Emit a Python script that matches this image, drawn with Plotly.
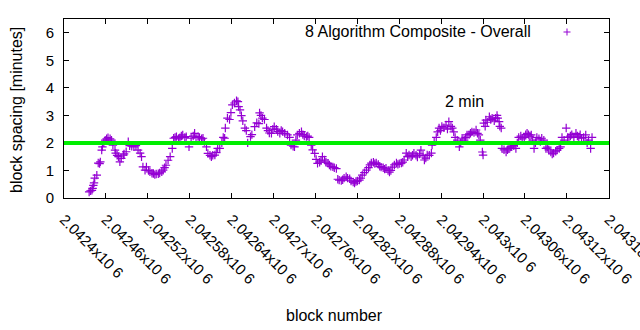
import plotly.graph_objects as go

# ---- data ----
blocks = [
    2042436, 2042438, 2042440, 2042441, 2042442, 2042443, 2042444, 2042447, 2042449, 2042451,
    2042452, 2042454, 2042455, 2042457, 2042459, 2042461, 2042463, 2042466, 2042468, 2042470,
    2042473, 2042474, 2042476, 2042478, 2042480, 2042482, 2042485, 2042486, 2042489, 2042492,
    2042494, 2042497, 2042500, 2042503, 2042506, 2042509, 2042511, 2042513, 2042516, 2042518,
    2042521, 2042523, 2042526, 2042528, 2042530, 2042532, 2042535, 2042537, 2042540, 2042542,
    2042544, 2042546, 2042549, 2042552, 2042555, 2042557, 2042559, 2042561, 2042564, 2042566,
    2042568, 2042570, 2042573, 2042575, 2042579, 2042582, 2042585, 2042587, 2042589, 2042592,
    2042594, 2042597, 2042599, 2042601, 2042604, 2042606, 2042609, 2042611, 2042613, 2042616,
    2042618, 2042620, 2042623, 2042626, 2042628, 2042630, 2042631, 2042634, 2042637, 2042639,
    2042641, 2042644, 2042647, 2042649, 2042650, 2042652, 2042654, 2042656, 2042659, 2042661,
    2042663, 2042667, 2042669, 2042673, 2042676, 2042679, 2042680, 2042682, 2042684, 2042687,
    2042690, 2042692, 2042694, 2042697, 2042699, 2042701, 2042704, 2042706, 2042709, 2042711,
    2042713, 2042716, 2042720, 2042723, 2042725, 2042728, 2042730, 2042732, 2042734, 2042737,
    2042740, 2042742, 2042744, 2042747, 2042749, 2042751, 2042754, 2042756, 2042759, 2042761,
    2042763, 2042766, 2042768, 2042770, 2042773, 2042775, 2042778, 2042780, 2042782, 2042785,
    2042787, 2042790, 2042792, 2042794, 2042797, 2042799, 2042801, 2042804, 2042806, 2042809,
    2042811, 2042814, 2042816, 2042818, 2042820, 2042823, 2042825, 2042827, 2042830, 2042833,
    2042836, 2042838, 2042840, 2042843, 2042845, 2042847, 2042850, 2042852, 2042854, 2042857,
    2042859, 2042861, 2042864, 2042866, 2042868, 2042870, 2042873, 2042876, 2042878, 2042880,
    2042883, 2042885, 2042887, 2042890, 2042892, 2042894, 2042897, 2042899, 2042901, 2042904,
    2042906, 2042909, 2042911, 2042914, 2042916, 2042918, 2042920, 2042923, 2042926, 2042927,
    2042930, 2042933, 2042935, 2042937, 2042939, 2042941, 2042944, 2042947, 2042949, 2042951,
    2042954, 2042956, 2042958, 2042960, 2042963, 2042966, 2042968, 2042970, 2042973, 2042975,
    2042977, 2042980, 2042982, 2042984, 2042987, 2042990, 2042992, 2042994, 2042996, 2042999,
    2043000, 2043001, 2043003, 2043004, 2043006, 2043009, 2043011, 2043013, 2043016, 2043018,
    2043020, 2043021, 2043023, 2043024, 2043026, 2043027, 2043030, 2043033, 2043035, 2043037,
    2043039, 2043041, 2043044, 2043047, 2043049, 2043051, 2043054, 2043056, 2043059, 2043061,
    2043063, 2043065, 2043067, 2043069, 2043071, 2043073, 2043075, 2043077, 2043080, 2043082,
    2043084, 2043087, 2043090, 2043092, 2043094, 2043097, 2043099, 2043101, 2043104, 2043106,
    2043109, 2043111, 2043113, 2043116, 2043119, 2043121, 2043123, 2043125, 2043127, 2043130,
    2043133, 2043135, 2043137, 2043139, 2043141, 2043144, 2043147, 2043149, 2043151, 2043154,
    2043156,
]

spacing_minutes = [
    0.22, 0.26, 0.28, 0.35, 0.46, 0.55, 0.72, 0.83, 1.27, 1.25,
    1.31, 1.74, 1.86, 2.00, 2.10, 2.15, 2.19, 2.15, 2.10, 1.92,
    1.74, 1.63, 1.55, 1.50, 1.31, 1.44, 1.56, 1.60, 1.68, 2.04,
    1.90, 1.88, 1.86, 1.90, 1.74, 1.63, 1.50, 1.13, 1.01, 1.13,
    1.00, 0.95, 0.90, 0.89, 0.85, 0.87, 0.88, 0.91, 0.95, 1.01,
    1.10, 1.19, 1.37, 1.50, 1.80, 2.17, 2.20, 2.23, 2.15, 2.19,
    2.25, 2.29, 2.20, 2.23, 1.86, 2.17, 2.25, 2.35, 2.20, 2.23,
    2.20, 2.15, 2.17, 2.05, 1.86, 1.62, 1.55, 1.50, 1.55, 1.56,
    1.65, 1.80, 1.80, 2.00, 2.20, 2.17, 2.54, 2.90, 2.85, 3.10,
    3.38, 3.45, 3.53, 3.50, 3.32, 3.20, 2.99, 2.80, 2.54, 2.45,
    2.00, 2.23, 2.30, 2.59, 2.73, 2.70, 3.09, 3.00, 2.90, 2.85,
    2.54, 2.45, 2.36, 2.35, 2.50, 2.59, 2.50, 2.41, 2.35, 2.45,
    2.41, 2.35, 2.29, 2.20, 1.92, 1.88, 1.86, 2.10, 2.29, 2.35,
    2.41, 2.30, 2.25, 2.23, 2.25, 2.20, 1.92, 1.75, 1.62, 1.40,
    1.26, 1.30, 1.35, 1.50, 1.38, 1.30, 1.26, 1.20, 1.15, 1.13,
    1.10, 1.07, 0.68, 0.65, 0.63, 0.66, 0.72, 0.77, 0.72, 0.70,
    0.62, 0.58, 0.54, 0.60, 0.62, 0.65, 0.72, 0.83, 0.92, 1.01,
    1.10, 1.20, 1.27, 1.30, 1.25, 1.27, 1.22, 1.15, 1.12, 1.10,
    1.05, 1.08, 1.00, 0.94, 1.00, 1.12, 1.20, 1.27, 1.22, 1.25,
    1.27, 1.30, 1.38, 1.63, 1.50, 1.56, 1.50, 1.55, 1.63, 1.55,
    1.49, 1.60, 1.74, 1.55, 1.38, 1.45, 1.56, 1.55, 1.63, 1.92,
    2.05, 2.20, 2.40, 2.54, 2.45, 2.60, 2.55, 2.65, 2.50, 2.77,
    2.60, 2.54, 2.40, 2.20, 2.10, 1.86, 2.00, 2.17, 2.10, 2.20,
    2.29, 2.30, 2.35, 2.40, 2.38, 2.47, 2.35, 2.29, 2.10, 1.67,
    1.56, 2.72, 2.60, 2.83, 2.75, 2.95, 2.85, 2.90, 2.80, 2.90,
    3.00, 2.90, 2.77, 2.60, 2.54, 1.80, 1.75, 1.67, 1.75, 1.80,
    1.85, 1.86, 1.90, 1.80, 2.00, 2.20, 2.25, 2.15, 2.20, 2.30,
    2.35, 2.30, 2.25, 2.29, 2.10, 1.80, 2.00, 2.20, 2.15, 2.05,
    2.17, 2.10, 1.80, 1.85, 1.75, 1.67, 1.60, 1.63, 1.70, 1.74,
    1.80, 1.86, 2.20, 2.10, 2.54, 2.20, 2.20, 2.25, 2.30, 2.20,
    2.35, 2.25, 2.20, 2.30, 2.17, 2.20, 2.29, 2.00, 2.10, 1.80,
    2.20,
]

assert len(blocks) == len(spacing_minutes)

target_minutes = 2
target_label = "2 min"
target_label_pos = (2042973, 3.49)

series_name = "8 Algorithm Composite - Overall"

x_tick_vals = [2042400, 2042460, 2042520, 2042580, 2042640, 2042700, 2042760,
               2042820, 2042880, 2042940, 2043000, 2043060, 2043120, 2043180]
x_tick_text = ["2.0424x10 6", "2.04246x10 6", "2.04252x10 6", "2.04258x10 6",
               "2.04264x10 6", "2.0427x10 6", "2.04276x10 6", "2.04282x10 6",
               "2.04288x10 6", "2.04294x10 6", "2.043x10 6", "2.04306x10 6",
               "2.04312x10 6", "2.04318x10 6"]
y_tick_vals = [0, 1, 2, 3, 4, 5, 6]

x_range = [2042400, 2043180.3]
y_range = [0, 6.5]

# ---- styling ----
PURPLE = "#9400d3"
GREEN = "#00ee00"
FONT = "Liberation Sans"
W, H = 640, 330
ML, MR, MT, MB = 64, 31, 19, 132
PW = W - ML - MR
PH = H - MT - MB

fig = go.Figure()
fig.add_trace(go.Scatter(
    x=blocks, y=spacing_minutes, mode="markers", name=series_name,
    marker=dict(symbol="cross-thin", size=6, color=PURPLE,
                line=dict(color=PURPLE, width=1.2)),
    showlegend=False, cliponaxis=True,
))

# 2-minute target line
fig.add_shape(type="line", xref="paper", x0=0, x1=1, yref="y",
              y0=target_minutes, y1=target_minutes,
              line=dict(color=GREEN, width=4), layer="above")

# legend (gnuplot style: text then sample to the right)
key_x = (567 - ML) / PW
key_y = (MT + PH - 32) / PH
fig.add_annotation(text=series_name, xref="paper", yref="paper",
                   x=(533 - ML) / PW, y=key_y, xanchor="right", yanchor="middle",
                   showarrow=False, font=dict(family=FONT, size=16, color="#000"))
for dx0, dx1, dy0, dy1 in [(-3.5, 3.5, 0, 0), (0, 0, -3.5, 3.5)]:
    fig.add_shape(type="line", xref="paper", yref="paper",
                  xsizemode="pixel", ysizemode="pixel",
                  xanchor=key_x, yanchor=key_y,
                  x0=dx0, x1=dx1, y0=dy0, y1=dy1,
                  line=dict(color=PURPLE, width=1))

fig.add_annotation(text=target_label, x=target_label_pos[0], y=target_label_pos[1],
                   xref="x", yref="y", showarrow=False, xanchor="center", yanchor="middle",
                   font=dict(family=FONT, size=16, color="#000"))

# axis titles
fig.add_annotation(text="block spacing [minutes]", xref="paper", yref="paper",
                   x=0, y=0.5, xshift=16 - ML, yshift=-1.5, textangle=-90,
                   xanchor="center", yanchor="middle", showarrow=False,
                   font=dict(family=FONT, size=16, color="#000"))
fig.add_annotation(text="block number", xref="paper", yref="paper",
                   x=0.5, y=0, yshift=-(315 - (MT + PH)), xshift=-2,
                   xanchor="center", yanchor="middle", showarrow=False,
                   font=dict(family=FONT, size=16, color="#000"))

axis_common = dict(showgrid=False, zeroline=False, showline=True, mirror="ticks",
                   linecolor="#000", linewidth=1, ticks="inside", ticklen=5,
                   tickcolor="#000", automargin=False, ticklabeloverflow="allow")

fig.update_xaxes(range=x_range, tickmode="array", tickvals=x_tick_vals,
                 ticktext=x_tick_text, tickangle=45, ticklabelstandoff=6,
                 tickfont=dict(family=FONT, size=15, color="#000"), **axis_common)
fig.update_yaxes(range=y_range, tickmode="array", tickvals=y_tick_vals,
                 ticklabelstandoff=6,
                 tickfont=dict(family=FONT, size=15, color="#000"), **axis_common)

fig.update_layout(
    width=W, height=H, template="none",
    margin=dict(l=ML, r=MR, t=MT, b=MB, pad=0),
    paper_bgcolor="white", plot_bgcolor="white",
    font=dict(family=FONT, size=14, color="#000"),
)

fig.write_html("out.html")
